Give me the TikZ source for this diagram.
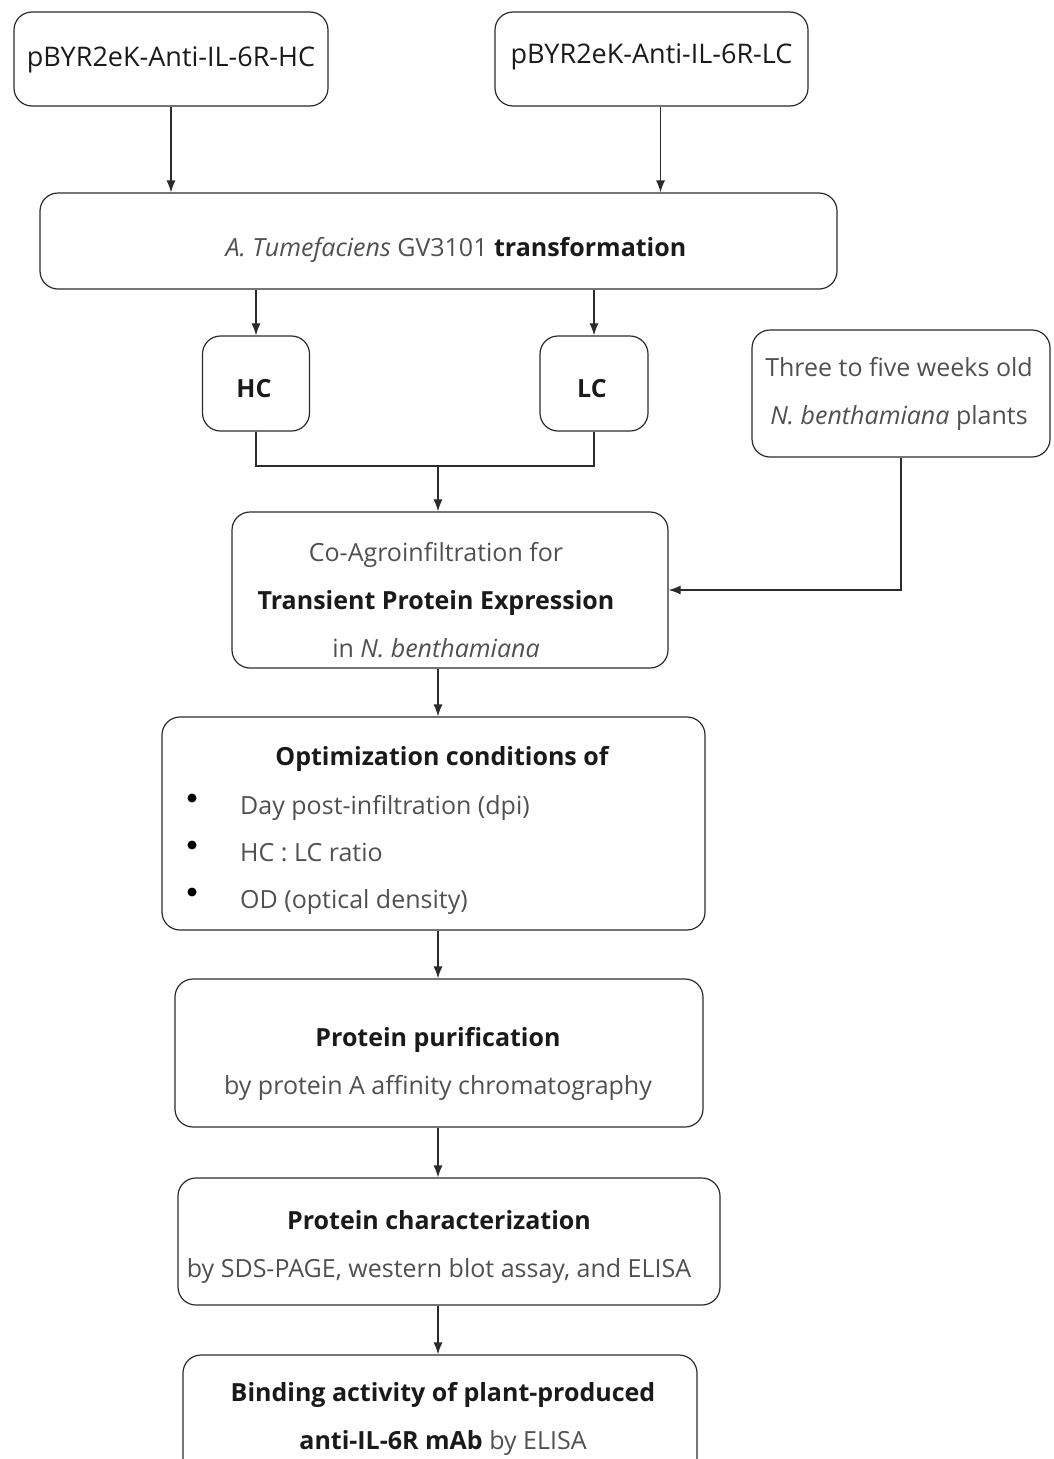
\documentclass[tikz,border=0pt]{standalone}
\usepackage{fontspec}
\setmainfont{Open Sans}
\usetikzlibrary{arrows.meta}
\definecolor{txtgrey}{HTML}{505050}
\definecolor{txtdark}{HTML}{1A1A1A}
\definecolor{linegrey}{HTML}{2B2B2B}
\tikzset{
  frame/.style={draw=linegrey, line width=1.2pt, rounded corners=18pt, inner sep=0pt},
  txt/.style={align=center, text=txtgrey, font=\fontsize{25}{48}\selectfont, inner sep=0pt},
  bigtxt/.style={txt, font=\fontsize{27}{48}\selectfont},
  dot/.style={circle, fill=black, inner sep=0pt, minimum size=9pt},
  flow/.style={draw=linegrey, line width=1.2pt, -{Latex[length=12pt,width=9pt]}},
  link/.style={draw=linegrey, line width=1.2pt},
}
\newcommand{\hl}[1]{\textbf{\color{txtdark}#1}}
\newcommand{\dk}[1]{{\color{txtdark}#1}}
\begin{document}
\begin{tikzpicture}[x=1pt,y=-1pt]
  \useasboundingbox (0,0) rectangle (1054,1459);
  \clip (0,0) rectangle (1054,1459);
  % constructs and transformation
  \node[frame, minimum width=314, minimum height=94] (hcvec) at (171,59) {};
  \node[bigtxt] (hcvec-t) at (171,60) {\dk{pBYR2eK-Anti-IL-6R-HC}};
  \node[frame, minimum width=313, minimum height=94] (lcvec) at (651.5,59) {};
  \node[bigtxt] (lcvec-t) at (651.5,57) {\dk{pBYR2eK-Anti-IL-6R-LC}};
  \node[frame, minimum width=797, minimum height=96] (transf) at (438.5,241) {};
  \node[txt] (transf-t) at (456,250) {\textit{A. Tumefaciens} GV3101 \hl{transformation}};
  \node[frame, minimum width=107, minimum height=95] (hc) at (256,383.5) {};
  \node[txt] (hc-t) at (254,388.5) {\hl{HC}};
  \node[frame, minimum width=108, minimum height=95] (lc) at (594,383.5) {};
  \node[txt] (lc-t) at (592,389) {\hl{LC}};
  \node[frame, minimum width=298, minimum height=127] (plants) at (901,393.5) {};
  \node[txt] (plants-t) at (899,394)
    {Three to five weeks old\\ \textit{N. benthamiana} plants};
  % expression and analysis
  \node[frame, minimum width=436, minimum height=156] (coagro) at (450,590) {};
  \node[txt] (coagro-t) at (436,600)
    {Co-Agroinfiltration for\\ \hl{Transient Protein Expression}\\ in \textit{N. benthamiana}};
  \node[frame, minimum width=543, minimum height=213] (optim) at (433.5,823.5) {};
  \node[txt] (optim-t) at (442,759) {\hl{Optimization conditions of}};
  \foreach \i/\t in {1/Day post-infiltration (dpi), 2/HC : LC ratio, 3/OD (optical density)} {
    \node[dot] (dot\i) at (192,751+47*\i) {};
    \node[txt, anchor=base west] (cond\i) at (240,767+47*\i) {\t};
  }
  \node[frame, minimum width=528, minimum height=148] (purif) at (439,1053) {};
  \node[txt] (purif-t) at (438,1064)
    {\hl{Protein purification}\\ by protein A affinity chromatography};
  \node[frame, minimum width=542, minimum height=127] (charac) at (449,1241.5) {};
  \node[txt] (charac-t) at (439,1247)
    {\hl{Protein characterization}\\ by SDS-PAGE, western blot assay, and ELISA};
  \node[frame, minimum width=514, minimum height=125] (binding) at (440,1417.5) {};
  \node[txt] (binding-t) at (443,1419)
    {\hl{Binding activity of plant-produced}\\ \hl{anti-IL-6R mAb} by ELISA};
  \coordinate (merge) at (438,466);
  % connectors
  \draw[flow] (hcvec.south) -- (hcvec.south |- transf.north);
  \draw[flow] ([xshift=9pt]lcvec.south) -- ([xshift=9pt]lcvec.south |- transf.north);
  \draw[flow] (transf.south -| hc.north) -- (hc.north);
  \draw[flow] (transf.south -| lc.north) -- (lc.north);
  \draw[link] (hc.south) |- (merge) -| (lc.south);
  \draw[flow] (merge) -- (merge |- coagro.north);
  \draw[flow] (plants.south) |- (coagro.east);
  \foreach \a/\b in {coagro/optim, optim/purif, purif/charac, charac/binding}
    \draw[flow] (\a.south -| merge) -- (\b.north -| merge);
\end{tikzpicture}
\end{document}
